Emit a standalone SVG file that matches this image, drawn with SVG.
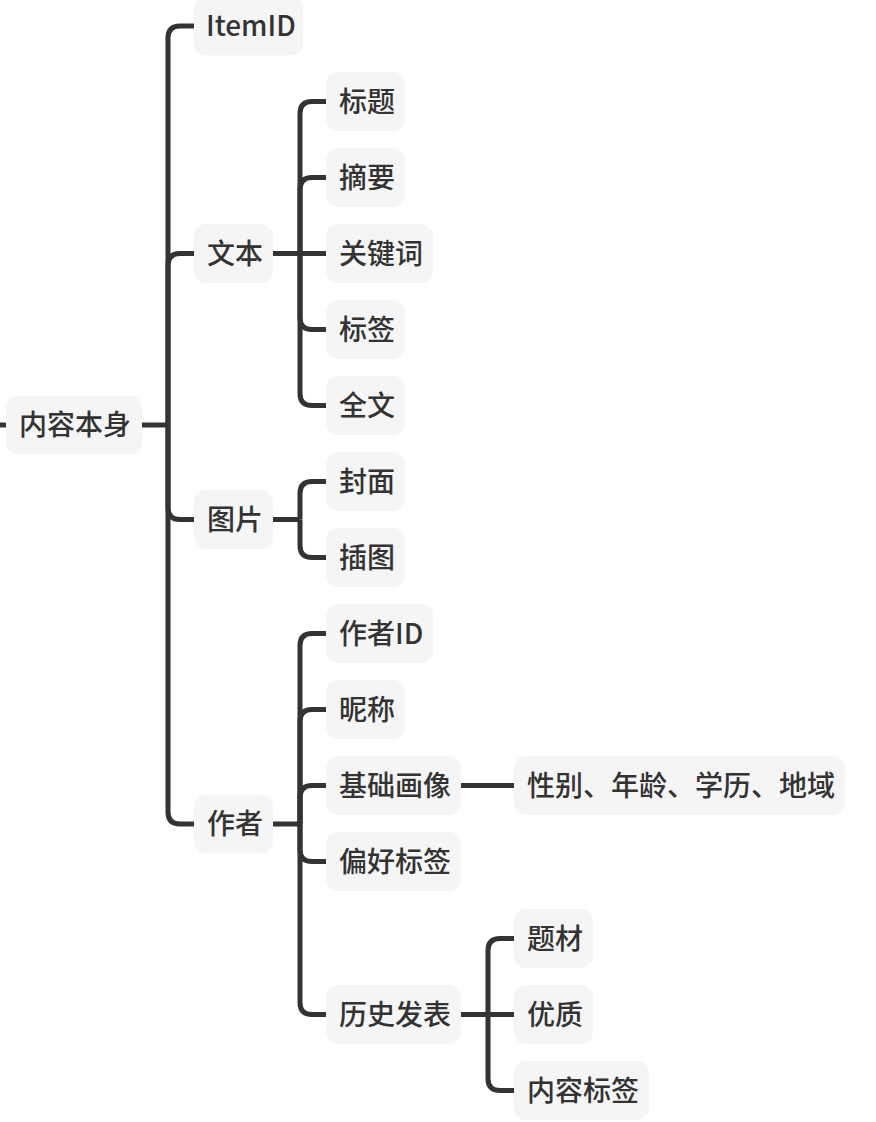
<svg xmlns="http://www.w3.org/2000/svg" width="876" height="1122" viewBox="0 0 876 1122">
<style>
.n rect{fill:#f5f5f5;}
.n text{font-family:"Noto Sans CJK SC","Noto Sans",sans-serif;font-size:28px;font-weight:500;fill:#333333;}
.c path{fill:none;stroke:#333333;stroke-width:5;stroke-linecap:butt;}
</style>
<rect width="876" height="1122" fill="#ffffff"/>
<g class="c" id="connectors">
<path d="M0,425 H6"/>
<path d="M142,425 H168"/>
<path d="M168,425 V38 Q168,26 180,26 H194"/>
<path d="M168,425 V265.5 Q168,253.5 180,253.5 H194"/>
<path d="M168,425 V507.5 Q168,519.5 180,519.5 H194"/>
<path d="M168,425 V812 Q168,824 180,824 H194"/>
<path d="M273,253.5 H300"/>
<path d="M300,253.5 V113.5 Q300,101.5 312,101.5 H326"/>
<path d="M300,253.5 V189.5 Q300,177.5 312,177.5 H326"/>
<path d="M300,253.5 H326"/>
<path d="M300,253.5 V317.5 Q300,329.5 312,329.5 H326"/>
<path d="M300,253.5 V393.5 Q300,405.5 312,405.5 H326"/>
<path d="M273,519.5 H300"/>
<path d="M300,519.5 V493.5 Q300,481.5 312,481.5 H326"/>
<path d="M300,519.5 V545.5 Q300,557.5 312,557.5 H326"/>
<path d="M273,824 H300"/>
<path d="M300,824 V645.5 Q300,633.5 312,633.5 H326"/>
<path d="M300,824 V721.5 Q300,709.5 312,709.5 H326"/>
<path d="M300,824 V797.5 Q300,785.5 312,785.5 H326"/>
<path d="M300,824 V849.5 Q300,861.5 312,861.5 H326"/>
<path d="M300,824 V1002.5 Q300,1014.5 312,1014.5 H326"/>
<path d="M461,785.5 H514"/>
<path d="M461,1014.5 H488"/>
<path d="M488,1014.5 V950.5 Q488,938.5 500,938.5 H514"/>
<path d="M488,1014.5 H514"/>
<path d="M488,1014.5 V1078.5 Q488,1090.5 500,1090.5 H514"/>
</g>
<g class="n" id="root"><rect x="6" y="395.5" width="136" height="59" rx="12"/><text x="19" y="435">内容本身</text></g>
<g class="n" id="itemid"><rect x="194" y="-3.5" width="109" height="59" rx="12"/><text x="206" y="36">ItemID</text></g>
<g class="n" id="wenben"><rect x="194" y="224" width="79" height="59" rx="12"/><text x="207" y="263.5">文本</text></g>
<g class="n" id="tupian"><rect x="194" y="490" width="79" height="59" rx="12"/><text x="207" y="529.5">图片</text></g>
<g class="n" id="zuozhe"><rect x="194" y="794.5" width="79" height="59" rx="12"/><text x="207" y="834">作者</text></g>
<g class="n" id="biaoti"><rect x="326" y="72" width="79" height="59" rx="12"/><text x="339" y="111.5">标题</text></g>
<g class="n" id="zhaiyao"><rect x="326" y="148" width="79" height="59" rx="12"/><text x="339" y="187.5">摘要</text></g>
<g class="n" id="guanjianci"><rect x="326" y="224" width="107" height="59" rx="12"/><text x="339" y="263.5">关键词</text></g>
<g class="n" id="biaoqian"><rect x="326" y="300" width="79" height="59" rx="12"/><text x="339" y="339.5">标签</text></g>
<g class="n" id="quanwen"><rect x="326" y="376" width="79" height="59" rx="12"/><text x="339" y="415.5">全文</text></g>
<g class="n" id="fengmian"><rect x="326" y="452" width="79" height="59" rx="12"/><text x="339" y="491.5">封面</text></g>
<g class="n" id="chatu"><rect x="326" y="528" width="79" height="59" rx="12"/><text x="339" y="567.5">插图</text></g>
<g class="n" id="zuozheid"><rect x="326" y="604" width="107" height="59" rx="12"/><text x="339" y="643.5">作者ID</text></g>
<g class="n" id="nicheng"><rect x="326" y="680" width="79" height="59" rx="12"/><text x="339" y="719.5">昵称</text></g>
<g class="n" id="jichuhuaxiang"><rect x="326" y="756" width="135" height="59" rx="12"/><text x="339" y="795.5">基础画像</text></g>
<g class="n" id="pianhao"><rect x="326" y="832" width="135" height="59" rx="12"/><text x="339" y="871.5">偏好标签</text></g>
<g class="n" id="lishi"><rect x="326" y="985" width="135" height="59" rx="12"/><text x="339" y="1024.5">历史发表</text></g>
<g class="n" id="xingbie"><rect x="514" y="756" width="331" height="59" rx="12"/><text x="527" y="795.5">性别、年龄、学历、地域</text></g>
<g class="n" id="ticai"><rect x="514" y="909" width="79" height="59" rx="12"/><text x="527" y="948.5">题材</text></g>
<g class="n" id="youzhi"><rect x="514" y="985" width="79" height="59" rx="12"/><text x="527" y="1024.5">优质</text></g>
<g class="n" id="neirongbiaoqian"><rect x="514" y="1061" width="135" height="59" rx="12"/><text x="527" y="1100.5">内容标签</text></g>
</svg>
